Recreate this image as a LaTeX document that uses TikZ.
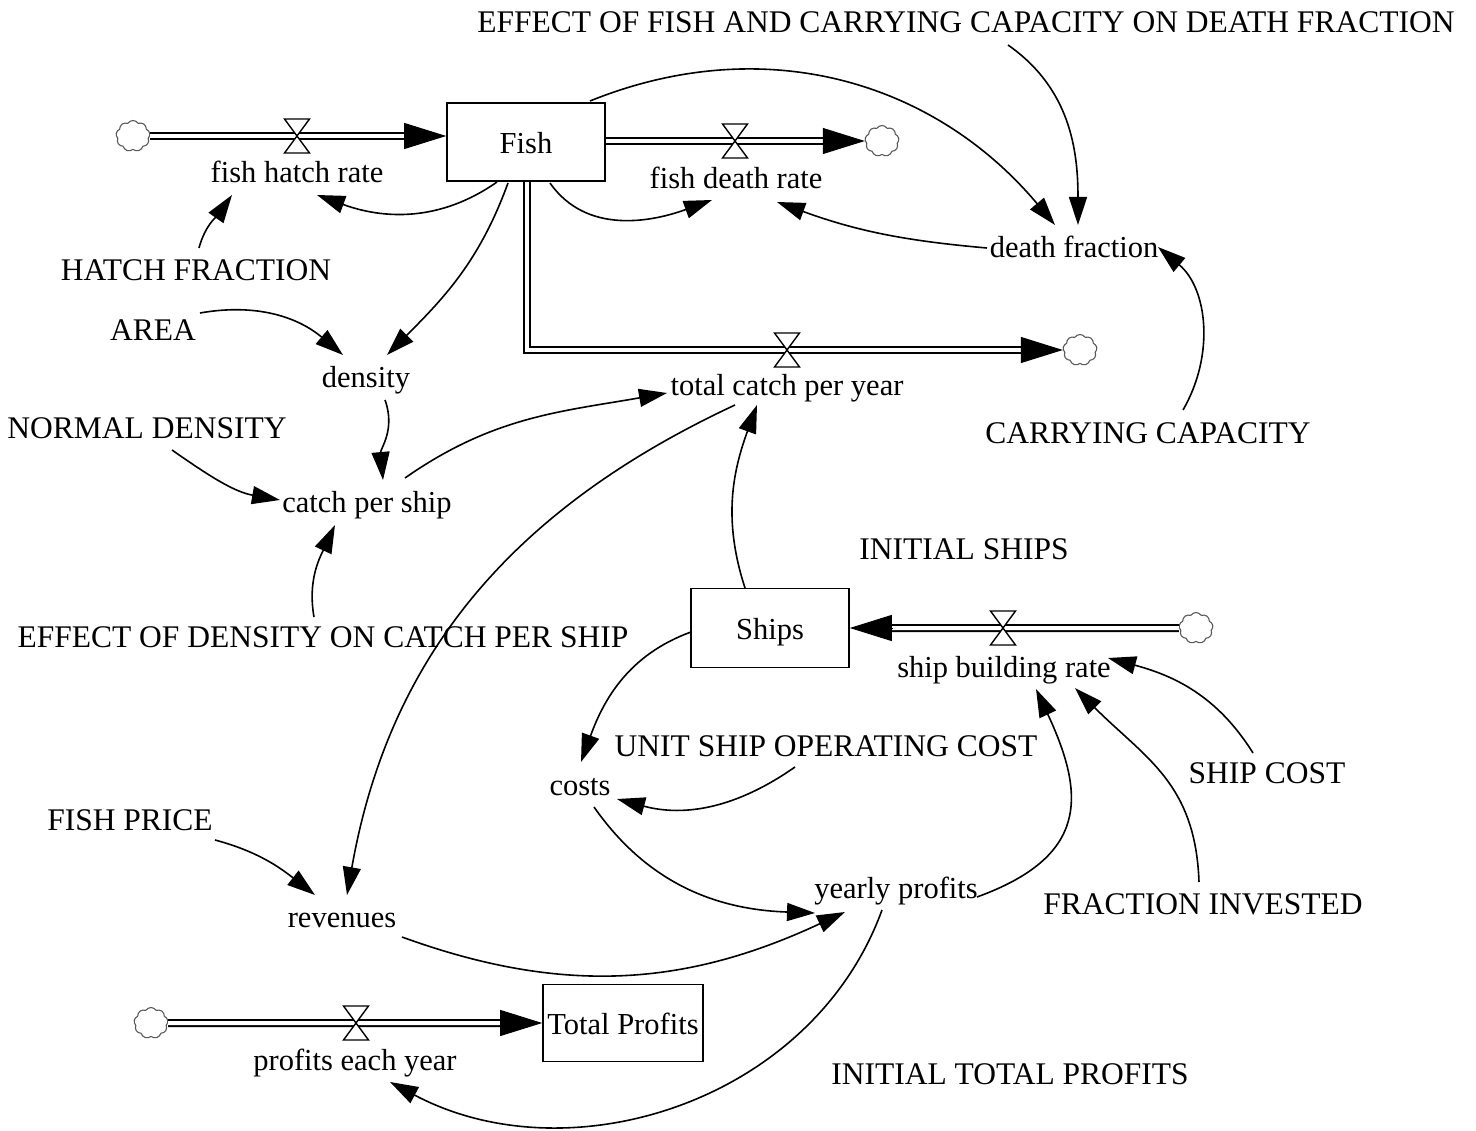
\documentclass[tikz,border=0pt]{standalone}
\usepackage{fontspec}
\setmainfont{Liberation Serif}
\usetikzlibrary{arrows.meta,shapes.symbols}
\begin{document}
\begin{tikzpicture}[x=1pt,y=1pt,
  font=\fontsize{30.5}{36}\selectfont,
  lbl/.style={inner sep=0pt, text height=22.5pt, text depth=1.5pt},
  caps/.style={inner sep=0pt, font=\fontsize{31.5}{37}\selectfont, text height=21pt, text depth=4pt},
  stock/.style={draw, line width=1.6pt, minimum width=158pt, minimum height=78pt, inner sep=0pt, text height=23pt, text depth=0pt},
  src/.style={cloud, cloud puffs=9, cloud puff arc=115, draw=black!65, line width=1.1pt, minimum width=34pt, minimum height=31pt, inner sep=0pt},
  pipe/.style={double, double distance=4pt, line width=2pt, line join=miter, line cap=butt},
  flowhead/.style={-{Triangle[length=42pt,width=26pt]}, line width=1pt},
  link/.style={line width=1.6pt, -{Triangle[length=28pt,width=18pt]}},
  valve/.pic={\filldraw[fill=white,draw=black,line width=1.4pt,line join=miter]
     (-12.5,17) -- (12.5,17) -- (-12.5,-17) -- (12.5,-17) -- cycle;}
]
\useasboundingbox (0,0) rectangle (1476,-1131);

% ---------- stocks ----------
\node[stock] (fish) at (526,-142) {Fish};
\node[stock, minimum height=79pt] (ships) at (770,-628) {Ships};
\node[stock, minimum width=160pt, minimum height=77pt] (tp) at (623,-1023) {Total Profits};

% ---------- clouds ----------
\node[src] (c1) at (133,-136) {};
\node[src] (c2) at (882,-141) {};
\node[src] (c3) at (1080,-350) {};
\node[src] (c4) at (1196,-628) {};
\node[src] (c5) at (151,-1023) {};

% ---------- flow end coordinates ----------
\coordinate (h1) at (fish.west |- c1.east);
\coordinate (k0) at ([xshift=1pt]fish.south);

% ---------- pipes ----------
\draw[pipe] (c1.east) -- ([xshift=-40pt]h1);
\draw[flowhead] ([xshift=-42pt]h1) -- (h1);

\draw[pipe] (fish.east |- c2.west) -- ([xshift=-40pt]c2.west);
\draw[flowhead] ([xshift=-42pt]c2.west) -- (c2.west);

\draw[pipe] (k0) |- ([xshift=-40pt]c3.west);
\draw[flowhead] ([xshift=-42pt]c3.west) -- (c3.west);

\draw[pipe] (c4.west) -- ([xshift=40pt]ships.east);
\draw[flowhead] ([xshift=42pt]ships.east) -- (ships.east);

\draw[pipe] (c5.east) -- ([xshift=-40pt]tp.west);
\draw[flowhead] ([xshift=-42pt]tp.west) -- (tp.west);

% ---------- valves ----------
\coordinate (v1) at (297,-136);
\coordinate (v2) at (735,-141);
\coordinate (v3) at (787,-350);
\coordinate (v4) at (1003,-628);
\coordinate (v5) at (356,-1023);
\pic at (v1) {valve};
\pic at (v2) {valve};
\pic at (v3) {valve};
\pic at (v4) {valve};
\pic at (v5) {valve};

% ---------- rates ----------
\node[lbl] (hatch) at (297,-172) {fish hatch rate};
\node[lbl] (death) at (736,-178) {fish death rate};
\node[lbl] (catch) at (787,-385) {total catch per year};
\node[lbl] (build) at (1004,-667) {ship building rate};
\node[lbl] (profit) at (355,-1060) {profits each year};

% ---------- auxiliaries / constants ----------
\node[caps] (effect1) at (966,-24) {EFFECT OF FISH AND CARRYING CAPACITY ON DEATH FRACTION};
\node[lbl] (deathfrac) at (1074,-247) {death fraction};
\node[caps] (hatchfrac) at (196,-272) {HATCH FRACTION};
\node[caps] (area) at (153,-332) {AREA};
\node[lbl] (density) at (366,-377) {density};
\node[caps] (normdens) at (147,-430) {NORMAL DENSITY};
\node[lbl] (cps) at (367,-502) {catch per ship};
\node[caps] (carrycap) at (1148,-435) {CARRYING CAPACITY};
\node[caps] (initships) at (964,-551) {INITIAL SHIPS};
\node[caps] (effect2) at (323,-639) {EFFECT OF DENSITY ON CATCH PER SHIP};
\node[caps] (unitcost) at (826,-748) {UNIT SHIP OPERATING COST};
\node[lbl] (costs) at (580,-785) {costs};
\node[caps] (shipcost) at (1267,-775) {SHIP COST};
\node[caps] (fishprice) at (130,-822) {FISH PRICE};
\node[lbl] (yprof) at (896,-888) {yearly profits};
\node[caps] (fracinv) at (1203,-906) {FRACTION INVESTED};
\node[lbl] (revenues) at (342,-917) {revenues};
\node[caps] (inittp) at (1010,-1076) {INITIAL TOTAL PROFITS};

% ---------- connectors ----------
\draw[link] ([shift={(-29,-40)}]fish.center) to[out=215,in=-20] ([shift={(20,-23)}]hatch.center);
\draw[link] ([shift={(3,24)}]hatchfrac.center) to[out=75,in=235] ([shift={(-65,-23)}]hatch.center);
\draw[link] ([shift={(24,-41)}]fish.center) to[out=-55,in=200] ([shift={(-24,-22)}]death.center);
\draw[link] ([shift={(-87,-1)}]deathfrac.center) to[out=175,in=-20] ([shift={(41,-24)}]death.center);
\draw[link] ([shift={(64,41)}]fish.center) to[out=22,in=130] ([shift={(-19,22)}]deathfrac.center);
\draw[link] ([shift={(42,-21)}]effect1.center) to[out=-35,in=90] ([shift={(4,22)}]deathfrac.center);
\draw[link] ([shift={(35,25)}]carrycap.center) to[out=60,in=-40] ([shift={(84,0)}]deathfrac.center);
\draw[link] ([shift={(-18,-41)}]fish.center) to[out=250,in=45] ([shift={(21,22)}]density.center);
\draw[link] ([shift={(47,19)}]area.center) to[out=10,in=140] ([shift={(-23,22)}]density.center);
\draw[link] ([shift={(19,-23)}]density.center) to[out=-70,in=95] ([shift={(16,22)}]cps.center);
\draw[link] ([shift={(25,-20)}]normdens.center) to[out=-35,in=170] ([shift={(-87,2)}]cps.center);
\draw[link] ([shift={(-9,22)}]effect2.center) to[out=100,in=245] ([shift={(-32,-23)}]cps.center);
\draw[link] ([shift={(38,24)}]cps.center) to[out=35,in=190] ([shift={(-120,-8)}]catch.center);
\draw[link] ([shift={(-25,40)}]ships.center) to[out=108,in=250] ([shift={(-30,-20)}]catch.center);
\draw[link] ([shift={(-52,-20)}]catch.center) to[out=205,in=80] ([shift={(5,22)}]revenues.center);
\draw[link] ([shift={(-79,-4)}]ships.center) to[out=200,in=70] ([shift={(1,23)}]costs.center);
\draw[link] ([shift={(-31,-19)}]unitcost.center) to[out=215,in=-15] ([shift={(37,-14)}]costs.center);
\draw[link] ([shift={(85,-18)}]fishprice.center) to[out=-15,in=142] ([shift={(-27,22)}]revenues.center);
\draw[link] ([shift={(14,-22)}]costs.center) to[out=-55,in=178] ([shift={(-81,-25)}]yprof.center);
\draw[link] ([shift={(60,-20)}]revenues.center) to[out=-20,in=205] ([shift={(-51,-24)}]yprof.center);
\draw[link] ([shift={(81,-9)}]yprof.center) to[out=20,in=-65,looseness=1.4] ([shift={(32,-22)}]build.center);
\draw[link] ([shift={(-4,24)}]fracinv.center) to[out=92,in=-45,looseness=1.1] ([shift={(71,-21)}]build.center);
\draw[link] ([shift={(-14,22)}]shipcost.center) to[out=122,in=-15] ([shift={(104,9)}]build.center);
\draw[link] ([shift={(-14,-22)}]yprof.center) to[out=250,in=-28,looseness=1.0] ([shift={(35,-22)}]profit.center);
\end{tikzpicture}
\end{document}
